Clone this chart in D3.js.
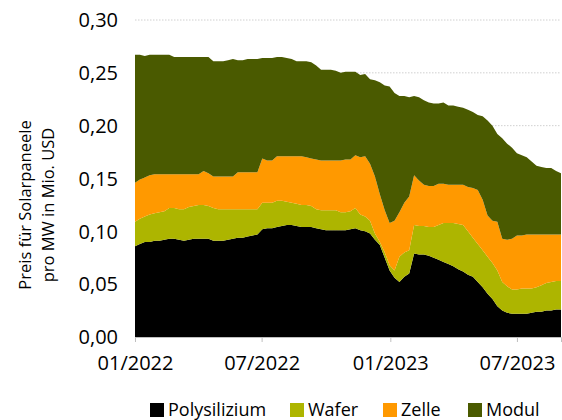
<!DOCTYPE html>
<html>
<head>
<meta charset="utf-8">
<script src="https://cdn.jsdelivr.net/npm/d3@7"></script>
<style>
  body { margin: 0; background: #fff; }
  text { font-family: "Open Sans", sans-serif; fill: #000; }
</style>
</head>
<body>
<div id="chart"></div>
<script>
// weekly prices, USD mn per MW, from Jan 2022
const startDate = new Date(2022, 0, 1);

const polysilizium = [
  .086, .088, .090, .090, .091, .091, .092, .093, .093, .092, .091, .092, .093, .093, .093, .093,
  .091, .091, .091, .092, .093, .094, .094, .095, .096, .097, .102, .103, .103, .104, .105, .106,
  .106, .105, .104, .104, .104, .103, .102, .101, .101, .101, .101, .101, .102, .103, .101, .100,
  .098, .092, .087, .075, .063, .056, .052, .057, .060, .079, .078, .078, .077, .075, .073, .071,
  .069, .067, .064, .062, .059, .057, .052, .047, .041, .036, .029, .025, .023, .022, .022, .022,
  .022, .023, .024, .024, .025, .025, .026, .026
];
const wafer = [
  .023, .024, .024, .026, .026, .027, .027, .029, .029, .029, .030, .031, .031, .032, .032, .031,
  .031, .030, .030, .029, .028, .027, .027, .026, .025, .024, .025, .024, .024, .025, .024, .022,
  .021, .021, .021, .021, .020, .018, .018, .019, .019, .019, .017, .017, .017, .019, .015, .014,
  .012, .006, .003, .005, .005, .007, .024, .023, .022, .027, .027, .027, .027, .029, .033, .037,
  .039, .041, .043, .044, .041, .037, .036, .035, .035, .034, .034, .027, .025, .023, .023, .024,
  .024, .023, .023, .025, .026, .027, .027, .027
];
const zelle = [
  .037, .037, .037, .037, .037, .036, .035, .032, .032, .033, .033, .031, .030, .029, .032, .031,
  .030, .031, .031, .031, .031, .035, .035, .035, .035, .035, .042, .040, .040, .042, .042, .043,
  .044, .045, .046, .045, .045, .047, .047, .047, .047, .047, .049, .050, .049, .050, .054, .057,
  .054, .054, .045, .040, .040, .047, .042, .047, .051, .047, .043, .039, .039, .039, .039, .037,
  .036, .036, .037, .038, .042, .047, .051, .048, .039, .040, .046, .041, .044, .048, .051, .050,
  .051, .051, .050, .048, .046, .045, .044, .044
];
const modul = [
  .121, .118, .115, .114, .113, .113, .113, .113, .111, .111, .111, .111, .111, .111, .108, .110,
  .109, .109, .109, .110, .111, .106, .106, .107, .107, .107, .095, .097, .097, .094, .094, .093,
  .092, .090, .090, .091, .091, .089, .086, .086, .086, .085, .083, .083, .083, .079, .078, .078,
  .080, .091, .106, .118, .129, .121, .110, .101, .094, .075, .079, .080, .079, .078, .076, .077,
  .075, .075, .074, .073, .073, .072, .071, .079, .090, .090, .083, .095, .091, .086, .078, .076,
  .073, .069, .065, .064, .063, .063, .060, .058
];

const seriesNames = ["Polysilizium", "Wafer", "Zelle", "Modul"];
const seriesColors = ["#000000", "#adb500", "#ff9900", "#4a5a00"];
const yTicks = [0, 0.05, 0.10, 0.15, 0.20, 0.25, 0.30];
const xTicks = [new Date(2022, 0, 1), new Date(2022, 6, 1), new Date(2023, 0, 1), new Date(2023, 6, 1)];

const width = 562, height = 420;
const margin = { top: 20, right: 1, bottom: 83, left: 135 };

const rows = polysilizium.map((v, i) => ({
  date: d3.timeDay.offset(startDate, 7 * i),
  Polysilizium: v,
  Wafer: wafer[i],
  Zelle: zelle[i],
  Modul: modul[i]
}));

const svg = d3.select("#chart")
  .append("svg")
    .attr("width", width)
    .attr("height", height);

const x = d3.scaleTime()
  .domain(d3.extent(rows, d => d.date))
  .range([margin.left, width - margin.right]);

const y = d3.scaleLinear()
  .domain([0, 0.30])
  .range([height - margin.bottom, margin.top]);

const comma = v => d3.format(".2f")(v).replace(".", ",");

// dotted gridlines
svg.append("g")
  .selectAll("line")
  .data(yTicks.slice(1))
  .enter()
  .append("line")
    .attr("x1", margin.left)
    .attr("x2", width - margin.right)
    .attr("y1", d => y(d))
    .attr("y2", d => y(d))
    .attr("stroke", "#d0d0d0")
    .attr("stroke-width", 1)
    .attr("stroke-dasharray", "1.5,1.5");

const stack = d3.stack().keys(seriesNames);
const layers = stack(rows);

const area = d3.area()
  .x(d => x(d.data.date))
  .y0(d => y(d[0]))
  .y1(d => y(d[1]));

svg.append("g")
  .selectAll("path")
  .data(layers)
  .enter()
  .append("path")
    .attr("d", area)
    .attr("fill", (d, i) => seriesColors[i]);

// y axis labels
svg.append("g")
  .selectAll("text")
  .data(yTicks)
  .enter()
  .append("text")
    .attr("x", margin.left - 17)
    .attr("y", d => y(d))
    .attr("dy", "0.36em")
    .attr("text-anchor", "end")
    .style("font-size", "20px")
    .text(comma);

// x axis
const xAxis = svg.append("g")
  .attr("transform", "translate(0," + (height - margin.bottom) + ")")
  .call(d3.axisBottom(x).tickValues(xTicks).tickFormat(d3.timeFormat("%m/%Y")).tickSizeOuter(0).tickSize(5));
xAxis.select(".domain").attr("stroke", "#bfbfbf");
xAxis.selectAll(".tick line").attr("stroke", "#bfbfbf");
xAxis.selectAll(".tick text")
  .attr("y", 26)
  .attr("dy", "0.36em")
  .style("font-size", "20px")
  .style("font-family", "Open Sans, sans-serif")
  .attr("fill", "#000");

// y axis title
const title = svg.append("text")
  .attr("transform", "translate(31,205) rotate(-90)")
  .attr("text-anchor", "middle")
  .style("font-size", "16.5px");
title.append("tspan").attr("x", 0).attr("dy", 0).text("Preis für Solarpaneele");
title.append("tspan").attr("x", 0).attr("dy", 23).text("pro MW in Mio. USD");

// legend
const legendX = [150, 290, 383, 468];
const legend = svg.append("g")
  .selectAll("g")
  .data(seriesNames)
  .enter()
  .append("g")
    .attr("transform", (d, i) => "translate(" + legendX[i] + ",403)");
legend.append("rect")
  .attr("width", 14)
  .attr("height", 14)
  .attr("fill", (d, i) => seriesColors[i]);
legend.append("text")
  .attr("x", 18)
  .attr("y", 13)
  .style("font-size", "18px")
  .text(d => d);
</script>
</body>
</html>
